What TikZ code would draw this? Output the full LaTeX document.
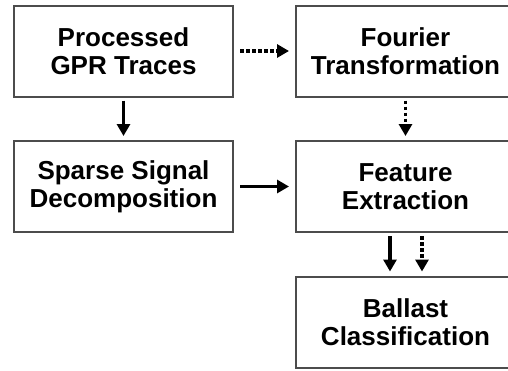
\documentclass[tikz,border=0pt]{standalone}
\usepackage{fontspec}
\setmainfont{Liberation Sans}
\usetikzlibrary{arrows.meta}
\begin{document}
\begin{tikzpicture}[x=1pt,y=-1pt,
  blk/.style={draw=black!70,line width=2pt,minimum width=219pt,minimum height=91pt,
    inner sep=0pt,align=center,font=\fontsize{26}{28}\selectfont\bfseries},
  arr/.style={line width=3.6pt,-{Triangle[length=12pt,width=13pt]},shorten <=3pt,shorten >=4pt},
  dotarr/.style={arr,dash pattern=on 3.5pt off 2.5pt}]
\useasboundingbox (0,0) rectangle (508,370);
\clip (0,0) rectangle (508,370);
\node[blk] (gpr) at (123.5,51) {Processed\\GPR Traces};
\node[blk] (four) at (405.5,51) {Fourier\\Transformation};
\node[blk] (sparse) at (123.5,186.5) {Sparse Signal\\Decomposition};
\node[blk] (feat) at (405.5,186.5) {Feature\\Extraction};
\node[blk] (ball) at (405.5,322) {Ballast\\Classification};
\draw[arr] (gpr) -- (sparse);
\draw[dotarr,shorten <=6pt,shorten >=6pt] (gpr) -- (four);
\draw[dotarr] (four) -- (feat);
\draw[arr,shorten <=6pt,shorten >=6pt] (sparse) -- (feat);
\draw[arr] ([xshift=-15.5pt]feat.south) -- ([xshift=-15.5pt]ball.north);
\draw[dotarr] ([xshift=16.5pt]feat.south) -- ([xshift=16.5pt]ball.north);
\end{tikzpicture}
\end{document}
